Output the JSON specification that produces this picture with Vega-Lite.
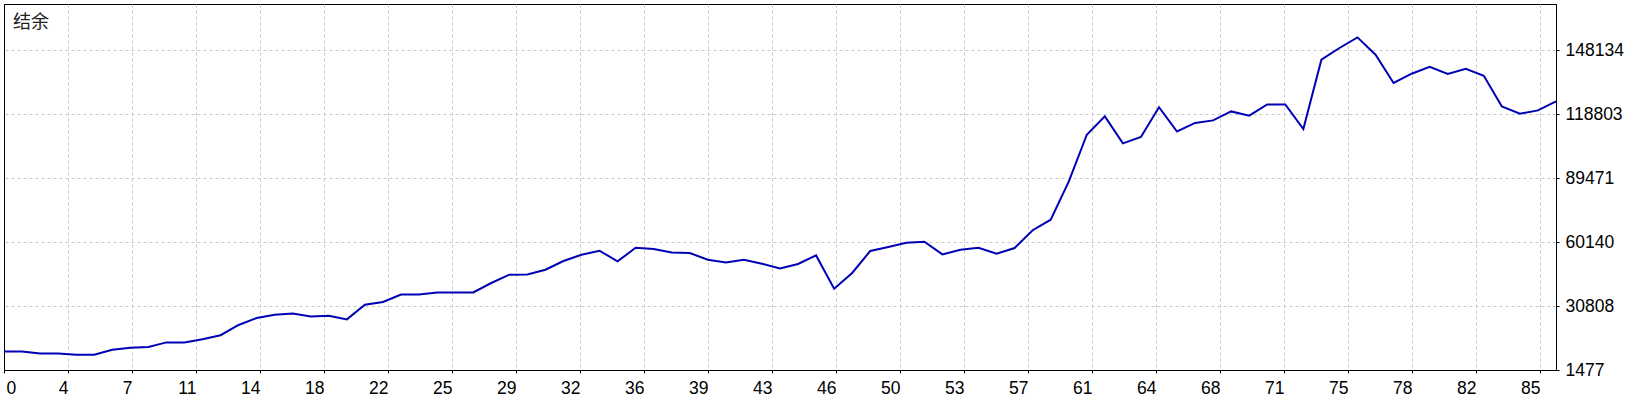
{
  "$schema": "https://vega.github.io/schema/vega-lite/v6.json",
  "width": 1552,
  "height": 366,
  "autosize": "none",
  "padding": {"left": 4, "top": 4, "right": 84, "bottom": 30},
  "background": "white",
  "title": {"text": "结余", "anchor": "start", "frame": "group", "orient": "top", "offset": -28, "dx": 9, "fontSize": 18, "font": "Noto Sans CJK SC", "fontWeight": "normal", "color": "#222222"},
  "config": {
    "view": {"stroke": "#000000", "strokeWidth": 1},
    "axis": {"domainColor": "#000000", "tickColor": "#000000", "labelColor": "#000000", "labelFont": "Liberation Sans", "labelFontSize": 17.5, "gridColor": "#c8c8c8", "gridDash": [3, 3], "gridWidth": 1, "tickSize": 3, "title": null}
  },
  "data": {"values": [
    {"i": 0, "balance": 10000}, {"i": 1, "balance": 10000}, {"i": 2, "balance": 9085}, {"i": 3, "balance": 9085},
    {"i": 4, "balance": 8489}, {"i": 5, "balance": 8489}, {"i": 6, "balance": 10780}, {"i": 7, "balance": 11697},
    {"i": 8, "balance": 12018}, {"i": 9, "balance": 14126}, {"i": 10, "balance": 14126}, {"i": 11, "balance": 15593},
    {"i": 12, "balance": 17426}, {"i": 13, "balance": 22101}, {"i": 14, "balance": 25309}, {"i": 15, "balance": 26821},
    {"i": 16, "balance": 27417}, {"i": 17, "balance": 26042}, {"i": 18, "balance": 26363}, {"i": 19, "balance": 24667},
    {"i": 20, "balance": 31404}, {"i": 21, "balance": 32641}, {"i": 22, "balance": 36079}, {"i": 23, "balance": 36124},
    {"i": 24, "balance": 37041}, {"i": 25, "balance": 37041}, {"i": 26, "balance": 37041}, {"i": 27, "balance": 41349},
    {"i": 28, "balance": 45153}, {"i": 29, "balance": 45290}, {"i": 30, "balance": 47444}, {"i": 31, "balance": 51432},
    {"i": 32, "balance": 54319}, {"i": 33, "balance": 56152}, {"i": 34, "balance": 51248}, {"i": 35, "balance": 57527},
    {"i": 36, "balance": 56931}, {"i": 37, "balance": 55373}, {"i": 38, "balance": 55098}, {"i": 39, "balance": 52027},
    {"i": 40, "balance": 50790}, {"i": 41, "balance": 52027}, {"i": 42, "balance": 50194}, {"i": 43, "balance": 48040},
    {"i": 44, "balance": 50057}, {"i": 45, "balance": 53998}, {"i": 46, "balance": 38737}, {"i": 47, "balance": 45932},
    {"i": 48, "balance": 56015}, {"i": 49, "balance": 57848}, {"i": 50, "balance": 59818}, {"i": 51, "balance": 60277},
    {"i": 52, "balance": 54456}, {"i": 53, "balance": 56610}, {"i": 54, "balance": 57527}, {"i": 55, "balance": 54777},
    {"i": 56, "balance": 57390}, {"i": 57, "balance": 65547}, {"i": 58, "balance": 70359}, {"i": 59, "balance": 87775},
    {"i": 60, "balance": 109315}, {"i": 61, "balance": 117702}, {"i": 62, "balance": 105328}, {"i": 63, "balance": 108261},
    {"i": 64, "balance": 121918}, {"i": 65, "balance": 110782}, {"i": 66, "balance": 114723}, {"i": 67, "balance": 115869},
    {"i": 68, "balance": 119993}, {"i": 69, "balance": 118022}, {"i": 70, "balance": 123201}, {"i": 71, "balance": 123201},
    {"i": 72, "balance": 111927}, {"i": 73, "balance": 143689}, {"i": 74, "balance": 149050}, {"i": 75, "balance": 153908},
    {"i": 76, "balance": 145979}, {"i": 77, "balance": 133009}, {"i": 78, "balance": 137271}, {"i": 79, "balance": 140479},
    {"i": 80, "balance": 137134}, {"i": 81, "balance": 139563}, {"i": 82, "balance": 136355}, {"i": 83, "balance": 122285},
    {"i": 84, "balance": 118939}, {"i": 85, "balance": 120451}, {"i": 86, "balance": 124576}
  ]},
  "mark": {"type": "line", "color": "#0000b4", "strokeWidth": 2, "interpolate": "linear"},
  "encoding": {
    "x": {
      "field": "i", "type": "quantitative",
      "scale": {"domain": [0, 86], "nice": false, "zero": false},
      "axis": {
        "values": [0, 3.5464, 7.0928, 10.6392, 14.1856, 17.732, 21.2784, 24.8248, 28.3711, 31.9175, 35.4639, 39.0103, 42.5567, 46.1031, 49.6495, 53.1959, 56.7423, 60.2887, 63.8351, 67.3814, 70.9278, 74.4742, 78.0206, 81.567, 85.1134],
        "labelExpr": "['0','4','7','11','14','18','22','25','29','32','36','39','43','46','50','53','57','61','64','68','71','75','78','82','85'][round(datum.value/3.5464)]",
        "labelAlign": {"condition": {"test": "datum.value < 1", "value": "left"}, "value": "right"},
        "labelOffset": {"condition": {"test": "datum.value < 1", "value": 2}, "value": 0},
        "gridColor": {"condition": {"test": "datum.value < 1", "value": "#000000"}, "value": "#c8c8c8"},
        "gridDash": {"condition": {"test": "datum.value < 1", "value": []}, "value": [3, 3]},
        "labelPadding": 6,
        "labelBaseline": "top",
        "labelOverlap": false,
        "labelFlush": false,
        "grid": true
      }
    },
    "y": {
      "field": "balance", "type": "quantitative",
      "scale": {"domain": [1477, 169216], "nice": false, "zero": false},
      "axis": {
        "orient": "right",
        "values": [1477, 30808.4, 60139.8, 89471.2, 118802.6, 148134],
        "format": ".0f",
        "labelAlign": "left",
        "labelBaseline": "middle",
        "labelPadding": 6,
        "labelOverlap": false,
        "labelFlush": false,
        "grid": true
      }
    }
  }
}
